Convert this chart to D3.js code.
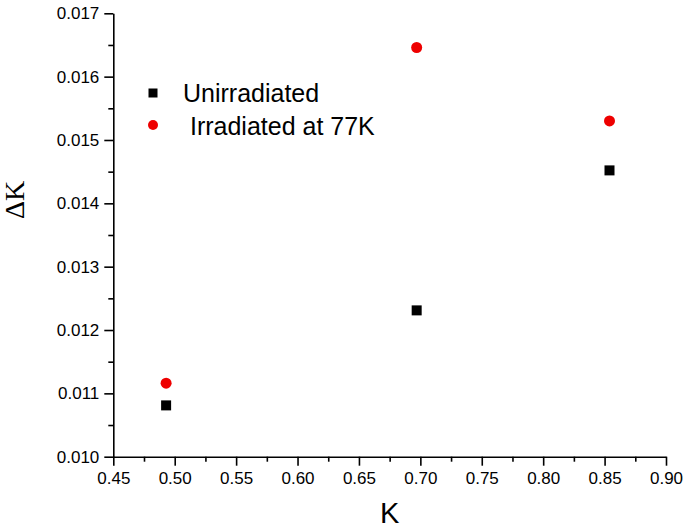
<!DOCTYPE html>
<html>
<head>
  <meta charset="utf-8">
  <title>Delta K vs K</title>
  <style type="text/css">
    body { margin: 0; background: white; }
    svg text { font-family: "Liberation Sans", Arial, sans-serif; fill: black; }
    .axis path, .axis line { stroke: black; stroke-width: 1.6px; }
  </style>
  <script src="https://d3js.org/d3.v7.min.js"></script>
</head>
<body>
<div id="chart"></div>
<script>
  // values
  var kValues = [0.493, 0.697, 0.854];
  var unirradiated = [0.01081, 0.01231, 0.01452];
  var irradiated = [0.01116, 0.01646, 0.01530];
  var seriesNames = ['Unirradiated', ' Irradiated at 77K'];
  var xTicks = [0.45, 0.50, 0.55, 0.60, 0.65, 0.70, 0.75, 0.80, 0.85, 0.90];
  var yTicks = [0.010, 0.011, 0.012, 0.013, 0.014, 0.015, 0.016, 0.017];

  var width = 685, height = 529;
  var margin = {top: 13.3, right: 19, bottom: 72.3, left: 113.3};

  var svg = d3.select('#chart').append('svg')
    .attr('width', width)
    .attr('height', height);

  var x = d3.scaleLinear().domain([0.45, 0.90]).range([margin.left, width - margin.right]);
  var y = d3.scaleLinear().domain([0.010, 0.017]).range([height - margin.bottom, margin.top]);

  // minor ticks at half steps
  var xMinor = d3.range(0, xTicks.length - 1).map(function (i) { return (xTicks[i] + xTicks[i + 1]) / 2; });
  var yMinor = d3.range(0, yTicks.length - 1).map(function (i) { return (yTicks[i] + yTicks[i + 1]) / 2; });

  svg.append('g')
    .attr('class', 'axis')
    .attr('transform', 'translate(0,' + y.range()[0] + ')')
    .call(d3.axisBottom(x).tickValues(xMinor).tickSize(5).tickFormat(''))
    .select('.domain').remove();

  svg.append('g')
    .attr('class', 'axis')
    .attr('transform', 'translate(' + x.range()[0] + ',0)')
    .call(d3.axisLeft(y).tickValues(yMinor).tickSize(5).tickFormat(''))
    .select('.domain').remove();

  var xAxis = svg.append('g')
    .attr('class', 'axis')
    .attr('transform', 'translate(0,' + y.range()[0] + ')')
    .call(d3.axisBottom(x).tickValues(xTicks).tickSize(9).tickSizeOuter(0).tickPadding(6).tickFormat(d3.format('.2f')));

  var yAxis = svg.append('g')
    .attr('class', 'axis')
    .attr('transform', 'translate(' + x.range()[0] + ',0)')
    .call(d3.axisLeft(y).tickValues(yTicks).tickSize(9).tickSizeOuter(0).tickPadding(5).tickFormat(d3.format('.3f')));

  // d3 puts font-size 10 on the axis group, so set it again after the call
  xAxis.attr('font-size', 17).attr('font-family', '"Liberation Sans", Arial, sans-serif');
  yAxis.attr('font-size', 17).attr('font-family', '"Liberation Sans", Arial, sans-serif');

  // axis titles
  svg.append('text')
    .attr('x', (x.range()[0] + x.range()[1]) / 2)
    .attr('y', 523)
    .attr('text-anchor', 'middle')
    .style('font-size', '29px')
    .text('K');

  svg.append('text')
    .attr('transform', 'translate(24,' + 200 + ') rotate(-90)')
    .attr('text-anchor', 'middle')
    .style('font-family', '"Liberation Serif", "Times New Roman", serif')
    .style('font-size', '28px')
    .text('\u0394K');

  // points
  var sq = 10;
  svg.selectAll('rect.pt')
    .data(kValues.map(function (k, i) { return [k, unirradiated[i]]; }))
    .enter().append('rect')
    .attr('class', 'pt')
    .attr('x', function (d) { return x(d[0]) - sq / 2; })
    .attr('y', function (d) { return y(d[1]) - sq / 2; })
    .attr('width', sq)
    .attr('height', sq)
    .style('fill', 'black');

  svg.selectAll('circle.pt')
    .data(kValues.map(function (k, i) { return [k, irradiated[i]]; }))
    .enter().append('circle')
    .attr('class', 'pt')
    .attr('cx', function (d) { return x(d[0]); })
    .attr('cy', function (d) { return y(d[1]); })
    .attr('r', 5.5)
    .style('fill', '#ee0000');

  // legend
  var legend = svg.append('g').attr('transform', 'translate(153,93)');
  legend.append('rect')
    .attr('x', -4.5).attr('y', -4.5).attr('width', 9).attr('height', 9)
    .style('fill', 'black');
  legend.append('circle')
    .attr('cx', 0).attr('cy', 32).attr('r', 5)
    .style('fill', '#ee0000');
  legend.selectAll('text')
    .data(seriesNames)
    .enter().append('text')
    .attr('x', 30)
    .attr('y', function (d, i) { return 9 + i * 33; })
    .style('font-size', '25px')
    .style('white-space', 'pre')
    .attr('xml:space', 'preserve')
    .text(function (d) { return d; });
</script>
</body>
</html>
